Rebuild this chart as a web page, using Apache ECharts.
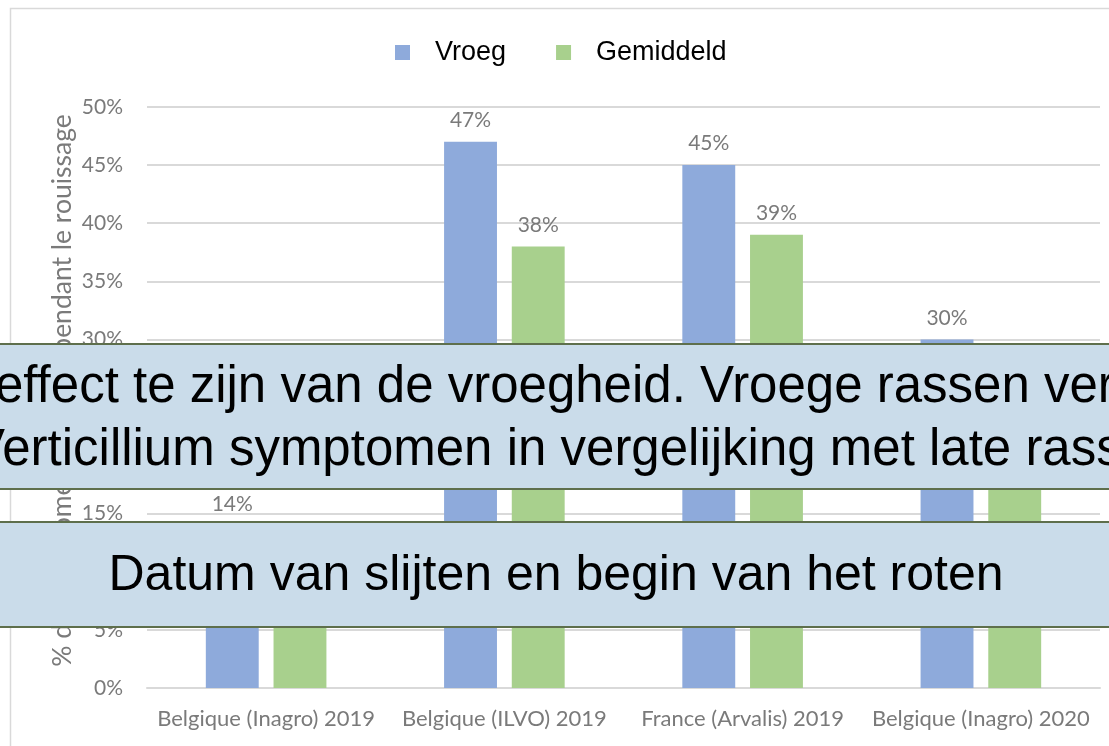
<!DOCTYPE html>
<html>
<head>
<meta charset="utf-8">
<script src="https://cdn.jsdelivr.net/npm/echarts@6/dist/echarts.min.js"></script>
<style>
html,body{margin:0;padding:0;background:#fff;}
#chart{width:1109px;height:746px;}
</style>
</head>
<body>
<div id="chart"></div>
<script>
// ---- data ----
const categories = ['Belgique (Inagro) 2019', 'Belgique (ILVO) 2019', 'France (Arvalis) 2019', 'Belgique (Inagro) 2020'];
const seriesNames = ['Vroeg', 'Gemiddeld'];
const vroeg = [14, 47, 45, 30];
const gemiddeld = [11, 38, 39, 22];
const yMin = 0, yMax = 50, yStep = 5;
const yAxisTitle = '% de symptômes observés pendant le rouissage';
const overlay1Line1 = 'effect te zijn van de vroegheid. Vroege rassen ver';
const overlay1Line2 = 'Verticillium symptomen in vergelijking met late rass';
const overlay2Text = 'Datum van slijten en begin van het roten';

const chart = echarts.init(document.getElementById('chart'), null, {renderer: 'canvas'});
const calibri = 'Lato';
const grey = '#7a7a7a';

const labelCfg = {
  show: true, position: 'top', distance: 11,
  formatter: p => p.value + '%',
  color: grey, fontFamily: calibri, fontSize: 21
};

chart.setOption({
  backgroundColor: '#ffffff',
  animation: false,
  legend: {
    data: seriesNames,
    top: 34, left: 390,
    icon: 'rect', itemWidth: 15, itemHeight: 15, itemGap: 50,
    textStyle: {fontFamily: 'Liberation Sans', fontSize: 27, color: '#000', padding: [0, 0, 0, 20]}
  },
  grid: {left: 147, right: 9, top: 107, bottom: 58, containLabel: false},
  xAxis: {
    type: 'category', data: categories,
    axisTick: {show: false},
    axisLine: {lineStyle: {color: '#d9d9d9', width: 2}},
    axisLabel: {interval: 0, margin: 20, color: grey, fontFamily: calibri, fontSize: 22}
  },
  yAxis: {
    type: 'value', min: yMin, max: yMax, interval: yStep,
    name: yAxisTitle, nameLocation: 'middle', nameGap: 71, nameRotate: 90,
    nameMoveOverlap: false,
    nameTextStyle: {color: grey, fontFamily: calibri, fontSize: 26.5, padding: [0, 0, 0, 14]},
    axisLine: {show: false}, axisTick: {show: false},
    axisLabel: {formatter: '{value}%', margin: 24, color: grey, fontFamily: calibri, fontSize: 21},
    splitLine: {lineStyle: {color: '#d9d9d9', width: 2}}
  },
  series: [
    {name: seriesNames[0], type: 'bar', data: vroeg, barWidth: '22.2%', barGap: '28%',
     itemStyle: {color: '#8eaadb'}, label: labelCfg},
    {name: seriesNames[1], type: 'bar', data: gemiddeld, barWidth: '22.2%',
     itemStyle: {color: '#a8d08d'}, label: labelCfg}
  ],
  graphic: [
    {type: 'rect', z: 0, silent: true, shape: {x: 10.5, y: 8.5, width: 1200, height: 800},
     style: {fill: 'none', stroke: '#d9d9d9', lineWidth: 1.5}},
    {type: 'rect', z: 100, shape: {x: -5, y: 344, width: 1125, height: 145},
     style: {fill: '#cadcea', stroke: '#5e6f4c', lineWidth: 2}},
    {type: 'text', z: 101, x: -5, y: 388,
     style: {text: overlay1Line1, fontFamily: 'Liberation Sans', fontSize: 51, fill: '#000', align: 'left', verticalAlign: 'middle'}},
    {type: 'text', z: 101, x: -29, y: 451,
     style: {text: overlay1Line2, fontFamily: 'Liberation Sans', fontSize: 51, fill: '#000', align: 'left', verticalAlign: 'middle'}},
    {type: 'rect', z: 100, shape: {x: -5, y: 522, width: 1125, height: 105},
     style: {fill: '#cadcea', stroke: '#5e6f4c', lineWidth: 2}},
    {type: 'text', z: 101, x: 556, y: 576,
     style: {text: overlay2Text, fontFamily: 'Liberation Sans', fontSize: 50, fill: '#000', align: 'center', verticalAlign: 'middle'}}
  ]
});
</script>
</body>
</html>
